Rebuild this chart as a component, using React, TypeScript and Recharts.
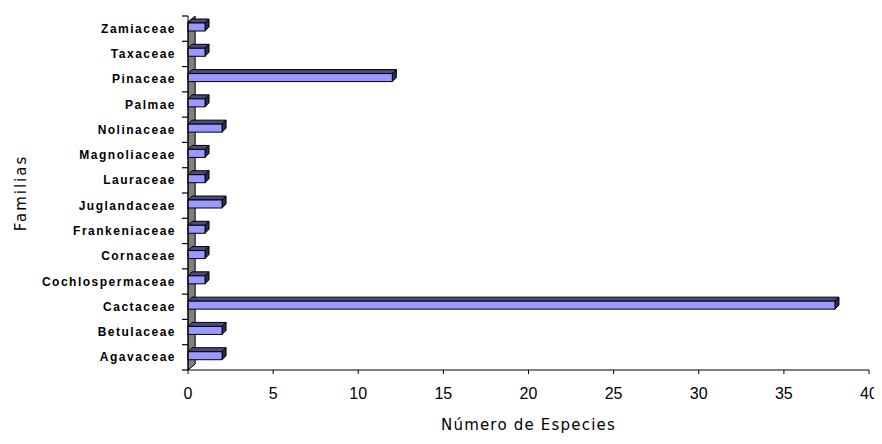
import { BarChart, Bar, XAxis, YAxis, ReferenceArea } from "recharts";

// familias, de abajo hacia arriba como en la figura
const familias = [
  "Agavaceae",
  "Betulaceae",
  "Cactaceae",
  "Cochlospermaceae",
  "Cornaceae",
  "Frankeniaceae",
  "Juglandaceae",
  "Lauraceae",
  "Magnoliaceae",
  "Nolinaceae",
  "Palmae",
  "Pinaceae",
  "Taxaceae",
  "Zamiaceae",
];
const especies = [2, 2, 38, 1, 1, 1, 2, 1, 1, 2, 1, 12, 1, 1];
const xTicks = [0, 5, 10, 15, 20, 25, 30, 35, 40];

const data = familias.map((f, i) => ({ familia: f, especies: especies[i] }));

const W = 874;
const H = 428;
const TOP = 8;
const Y_AXIS_W = 180;
const BOTTOM_AXIS = 66;
const BAND = (H - TOP - BOTTOM_AXIS) / familias.length;
const DEPTH = 4;

const Bar3D = (props: any) => {
  const { x, y, width, height } = props;
  if (!width) return null;
  const yy = y - 2;
  const d = DEPTH;
  return (
    <g stroke="#000" strokeWidth={1}>
      <polygon
        points={`${x},${yy} ${x + d},${yy - d} ${x + width + d},${yy - d} ${x + width},${yy}`}
        fill="#4a4a80"
      />
      <polygon
        points={`${x + width},${yy} ${x + width + d},${yy - d} ${x + width + d},${yy + height - d} ${x + width},${yy + height}`}
        fill="#2b2b5c"
      />
      <rect x={x} y={yy} width={width} height={height} fill="#9999ff" />
    </g>
  );
};

const Wall = (props: any) => {
  const { x, y, width, height } = props;
  const s = 6;
  return (
    <polygon
      points={`${x},${y + s} ${x + width},${y} ${x + width},${y + height - s} ${x},${y + height}`}
      fill="#808080"
      stroke="#000"
      strokeWidth={1}
    />
  );
};

const YTick = (props: any) => {
  const { x, y, payload, index } = props;
  const ax = Y_AXIS_W;
  return (
    <g>
      <line x1={ax - 6} x2={ax} y1={y + BAND / 2} y2={y + BAND / 2} stroke="#000" strokeWidth={1.2} />
      {index === familias.length - 1 && (
        <line x1={ax - 6} x2={ax} y1={y - BAND / 2} y2={y - BAND / 2} stroke="#000" strokeWidth={1.2} />
      )}
      <text
        x={x}
        y={y}
        dy={4}
        textAnchor="end"
        fontFamily="Liberation Sans, Arial, sans-serif"
        fontSize={12}
        fontWeight="bold"
        letterSpacing={1.5}
        fill="#000"
      >
        {payload.value}
      </text>
    </g>
  );
};

export default function App() {
  return (
    <div style={{ width: W, height: H, background: "#fff" }}>
      <BarChart
        width={W}
        height={H}
        data={data}
        layout="vertical"
        margin={{ top: TOP, right: 13, bottom: 0, left: 0 }}
        barSize={8}
      >
        <XAxis
          type="number"
          domain={[0, 40]}
          ticks={xTicks}
          height={BOTTOM_AXIS}
          tickSize={4}
          tickMargin={14}
          axisLine={{ stroke: "#000" }}
          tickLine={{ stroke: "#000" }}
          tick={{ fill: "#000", fontSize: 16, fontFamily: "Liberation Sans, Arial, sans-serif" }}
          label={{
            value: "Número de Especies",
            position: "insideBottom",
            offset: 6,
            style: { fill: "#000", fontSize: 15, fontFamily: "DejaVu Sans, sans-serif", letterSpacing: 1.2 },
          }}
        />
        <YAxis
          type="category"
          dataKey="familia"
          reversed
          width={Y_AXIS_W}
          tickSize={0}
          tickMargin={12}
          axisLine={{ stroke: "#000" }}
          tickLine={false}
          interval={0}
          tick={<YTick />}
          label={{
            value: "Familias",
            angle: -90,
            position: "insideLeft",
            offset: 13,
            textAnchor: "middle",
            style: { fill: "#000", fontSize: 15, fontFamily: "DejaVu Sans, sans-serif", letterSpacing: 2, textAnchor: "middle" },
          }}
        />
        <ReferenceArea x1={0} x2={0.42} shape={<Wall />} />
        <Bar dataKey="especies" shape={<Bar3D />} isAnimationActive={false} />
      </BarChart>
    </div>
  );
}
